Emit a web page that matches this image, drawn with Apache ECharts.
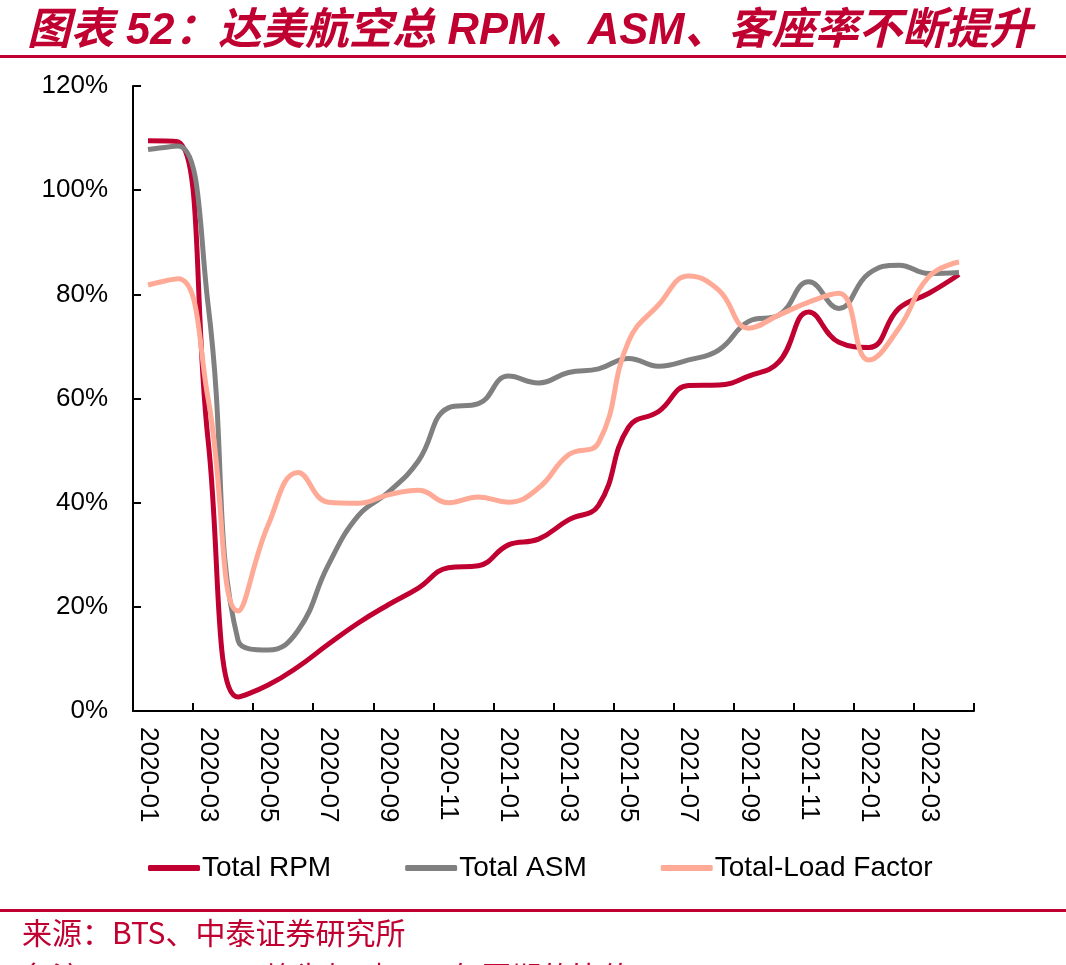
<!DOCTYPE html>
<html>
<head>
<meta charset="utf-8">
<script src="https://cdn.jsdelivr.net/npm/echarts@6/dist/echarts.min.js"></script>
<style>
  html, body { margin: 0; padding: 0; background: #fff; }
  #main { width: 1066px; height: 965px; }
</style>
</head>
<body>
<div id="main"></div>
<script>
// 月份
const months = ['2020-01', '2020-02', '2020-03', '2020-04', '2020-05', '2020-06', '2020-07',
  '2020-08', '2020-09', '2020-10', '2020-11', '2020-12', '2021-01', '2021-02', '2021-03',
  '2021-04', '2021-05', '2021-06', '2021-07', '2021-08', '2021-09', '2021-10', '2021-11',
  '2021-12', '2022-01', '2022-02', '2022-03', '2022-04'];

// 相对 2019 年同期 (%)
const totalRPM = [109.5, 109.3, 52, 2.7, 5, 8.5, 12.8, 16.9, 20.4, 23.6, 27.5, 27.9, 31.9, 33,
  36.7, 39.5, 54.5, 57.5, 62.5, 62.6, 64.3, 67, 76.6, 70.8, 69.8, 77.3, 80.2, 83.8];
const totalASM = [107.8, 108.5, 78, 13.5, 11.7, 15.5, 28, 37.5, 42, 48, 58.2, 59, 64.3, 63,
  65, 65.7, 67.7, 66.2, 67.4, 69.3, 74.8, 76, 82.4, 77.3, 84, 85.6, 84, 84.2];
const loadFactor = [81.8, 83, 60, 19.2, 35.7, 45.8, 40.1, 39.9, 41.5, 42.4, 40, 41.1, 40.1, 42.8,
  49.2, 51.5, 71, 78, 83.5, 80.8, 73.5, 76, 78.5, 80.2, 67.4, 73.5, 83.4, 86.2];

const RED = '#C00030';
const latin = 'Liberation Sans, Arial, Noto Sans CJK SC';
const cjk = 'Noto Sans CJK SC';

let myChart = echarts.init(document.getElementById('main'));

function lineSeries(name, data, color) {
    return {
        name: name,
        type: 'line',
        data: data,
        smooth: 0.45,
        symbol: 'none',
        lineStyle: { width: 5, color: color },
        itemStyle: { color: color }
    };
}

let option = {
    animation: false,
    backgroundColor: '#fff',
    title: {
        text: '图表 52：达美航空总 RPM、ASM、客座率不断提升',
        left: 22,
        top: 5,
        textStyle: {
            color: RED,
            fontSize: 43.5,
            fontWeight: 'bold',
            fontStyle: 'italic',
            fontFamily: latin
        }
    },
    grid: { left: 133, right: 92, top: 86, bottom: 254 },
    legend: {
        left: 143,
        top: 849,
        itemWidth: 52,
        itemHeight: 6,
        itemGap: 74,
        icon: 'roundRect',
        textStyle: { fontSize: 28, color: '#000', fontFamily: latin, padding: [0, 0, 0, -3] },
        data: ['Total RPM', 'Total ASM', 'Total-Load Factor']
    },
    xAxis: {
        type: 'category',
        data: months,
        boundaryGap: true,
        axisLine: { lineStyle: { color: '#000', width: 2 } },
        axisTick: { show: true, inside: true, length: 8, interval: 1, lineStyle: { color: '#000', width: 2 } },
        axisLabel: {
            interval: 1,
            rotate: -90,
            margin: 16,
            color: '#000',
            fontSize: 26,
            fontFamily: latin
        },
        splitLine: { show: false }
    },
    yAxis: {
        type: 'value',
        min: 0,
        max: 120,
        interval: 20,
        axisLine: { show: true, lineStyle: { color: '#000', width: 2 } },
        axisTick: { show: true, inside: true, length: 8, lineStyle: { color: '#000', width: 2 } },
        axisLabel: {
            formatter: '{value}%',
            margin: 25,
            color: '#000',
            fontSize: 26,
            fontFamily: latin
        },
        splitLine: { show: false }
    },
    graphic: [
        { type: 'rect', shape: { x: 0, y: 55, width: 1066, height: 3 }, style: { fill: RED } },
        { type: 'rect', shape: { x: 0, y: 909, width: 1066, height: 3 }, style: { fill: RED } },
        {
            type: 'text', left: 22, top: 918,
            style: { text: '来源：BTS、中泰证券研究所', fill: RED, fontSize: 30, fontFamily: cjk }
        },
        {
            type: 'text', left: 22, top: 962,
            style: { text: '备注：RPM、ASM均为相对2019年同期的比值', fill: RED, fontSize: 30, fontFamily: cjk }
        }
    ],
    series: [
        lineSeries('Total RPM', totalRPM, RED),
        lineSeries('Total ASM', totalASM, '#808080'),
        lineSeries('Total-Load Factor', loadFactor, '#FFAA96')
    ]
};
myChart.setOption(option);
</script>
</body>
</html>
